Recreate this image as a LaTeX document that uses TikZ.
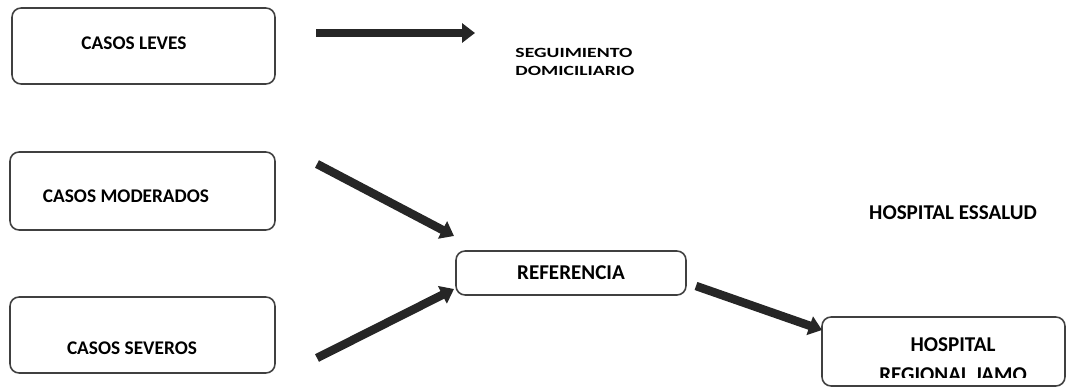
\documentclass[tikz,border=0pt]{standalone}
\usepackage{fontspec}
\setmainfont{Carlito}
\usetikzlibrary{arrows.meta}
\tikzset{
  caja/.style={draw=black!75, line width=0.9pt, rounded corners=0.18cm},
  flecha/.style={draw=black!85, line width=0.17cm, -{Triangle[length=0.26cm,width=0.38cm]}},
  etiq/.style={font=\bfseries\fontsize{11}{14}\selectfont, inner sep=0pt},
  etiqg/.style={font=\bfseries\fontsize{12}{14.8}\selectfont, inner sep=0pt, align=center},
}

\begin{document}
\begin{tikzpicture}[x=0.02cm,y=-0.02cm]
\useasboundingbox (0,0) rectangle (1068,388);

%-------------------------------------
\node[caja, minimum width=5.26cm, minimum height=1.52cm] (leves) at (143.5,46) {};
\node[caja, minimum width=5.3cm, minimum height=1.56cm] (moderados) at (142.5,191) {};
\node[caja, minimum width=5.3cm, minimum height=1.52cm] (severos) at (142.5,335) {};
\node[etiq] (leves-t) at (134,43) {CASOS LEVES};
\node[etiq] (moderados-t) at (126,196) {CASOS MODERADOS};
\node[etiq] (severos-t) at (132,348) {CASOS SEVEROS};

\node[font=\bfseries\fontsize{8}{10.2}\selectfont, align=left, anchor=west,
      inner sep=0pt, xscale=1.4, transform shape] (seguimiento) at (515,62)
      {SEGUIMIENTO\\DOMICILIARIO};

\node[caja, etiqg, minimum width=4.6cm, minimum height=0.88cm, inner sep=0pt] (referencia) at (571,273) {REFERENCIA};
\node[etiqg] (essalud) at (953,213) {HOSPITAL ESSALUD};

\node[caja, minimum width=4.86cm, minimum height=1.38cm] (regional) at (943.5,351.5) {};
\begin{scope}
\clip (823,318) rectangle (1064,377);
\node[etiqg, font=\bfseries\fontsize{12}{17}\selectfont] (regional-t) at (953,360) {HOSPITAL\\REGIONAL JAMO};
\end{scope}

%-------------------------------------
\coordinate (f1a) at (316,33);
\coordinate (f1b) at (475,33);
\coordinate (f2a) at (317,164);
\coordinate (f2b) at (454,236);
\coordinate (f3a) at (317,358);
\coordinate (f3b) at (454,289);
\coordinate (f4a) at (696,286);
\coordinate (f4b) at (822,330);

\draw[flecha] (f1a) -- (f1b);
\draw[flecha] (f2a) -- (f2b);
\draw[flecha] (f3a) -- (f3b);
\draw[flecha] (f4a) -- (f4b);
\end{tikzpicture}
\end{document}
